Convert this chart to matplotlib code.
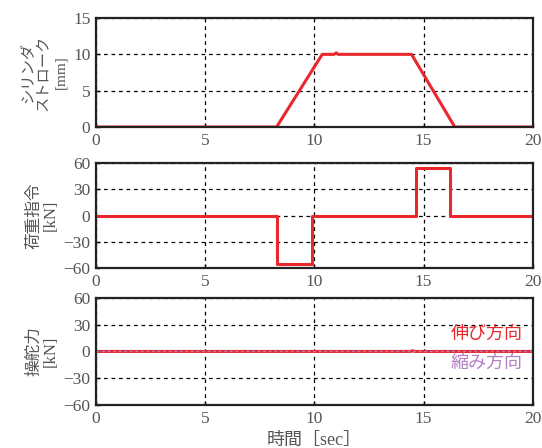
import matplotlib
matplotlib.use("Agg")
import matplotlib.pyplot as plt

# 時間 [sec] と各信号の折れ点
stroke_t = [0, 8.27, 10.36, 10.9, 11.0, 11.1, 14.45, 16.43, 20]
stroke_v = [0, 0, 10, 10, 10.2, 10, 10, 0, 0]

load_t = [0, 8.31, 8.31, 9.90, 9.90, 14.67, 14.67, 16.2, 16.2, 20]
load_v = [0, 0, -55, -55, 0, 0, 55, 55, 0, 0]

force_t = [0, 14.4, 14.5, 14.6, 20]
force_ext = [0, 0, 0.8, 0, 0]
force_ret = [0, 0, 0, 0, 0]

xticks = [0, 5, 10, 15, 20]
RED = "#e8282c"
PURPLE = "#b27fc4"
TICK_GREY = "#555555"
LABEL = ["Liberation Serif", "Noto Sans CJK JP", "DejaVu Sans"]
NUM = "Liberation Serif"

fig = plt.figure(figsize=(5.42, 4.48), dpi=100)
ax1 = fig.add_axes([0.177, 0.7165, 0.806, 0.2433])
ax2 = fig.add_axes([0.177, 0.4018, 0.806, 0.234])
ax3 = fig.add_axes([0.177, 0.096, 0.806, 0.239])

ax1.plot(stroke_t, stroke_v, color=RED, linewidth=2.2)
ax2.plot(load_t, load_v, color=RED, linewidth=2.2)
ax3.plot(force_t, force_ext, color=RED, linewidth=2.2)
ax3.plot(force_t, force_ret, color=PURPLE, linewidth=1.0, linestyle=(0, (2, 2)))

ax1.set_ylim(0, 15)
ax1.set_yticks([0, 5, 10, 15])
for ax in (ax2, ax3):
    ax.set_ylim(-60, 60)
    ax.set_yticks([-60, -30, 0, 30, 60])
    ax.set_yticklabels(["\u221260", "\u221230", "0", "30", "60"])

for ax in (ax1, ax2, ax3):
    ax.set_xlim(0, 20)
    ax.set_xticks(xticks)
    ax.grid(True, color="black", linestyle=(0, (3, 3)), linewidth=0.9)
    ax.tick_params(direction="in", length=3, width=1, colors="black",
                   labelcolor=TICK_GREY, labelsize=12.5, pad=4)
    for lbl in ax.get_xticklabels() + ax.get_yticklabels():
        lbl.set_family(NUM)
    for spine in ax.spines.values():
        spine.set_linewidth(1.6)
        spine.set_color("#222222")

ax1.set_ylabel("シリンダ\nストローク\n[mm]", family=LABEL, fontsize=11,
               color=TICK_GREY, linespacing=1.35)
ax2.set_ylabel("荷重指令\n[kN]", family=LABEL, fontsize=12,
               color=TICK_GREY, linespacing=1.1)
ax3.set_ylabel("操舵力\n[kN]", family=LABEL, fontsize=12,
               color=TICK_GREY, linespacing=1.1)
ax1.yaxis.set_label_coords(-0.066, 0.5)
ax2.yaxis.set_label_coords(-0.084, 0.5)
ax3.yaxis.set_label_coords(-0.084, 0.5)

ax3.set_xlabel("時間［sec］", family=LABEL, fontsize=13, color=TICK_GREY, labelpad=4)

ax3.text(0.977, 0.664, "伸び方向", transform=ax3.transAxes, ha="right",
         va="center", family=LABEL, fontsize=13, color=RED)
ax3.text(0.977, 0.393, "縮み方向", transform=ax3.transAxes, ha="right",
         va="center", family=LABEL, fontsize=13, color=PURPLE)

fig.savefig("out.png", dpi=100)
